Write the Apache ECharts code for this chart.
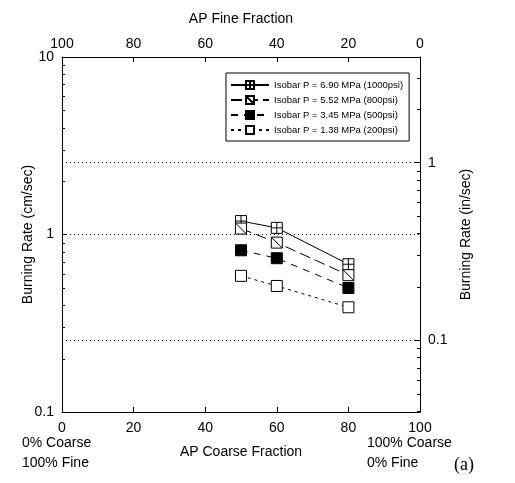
<!DOCTYPE html>
<html>
<head>
<meta charset="utf-8">
<script src="https://cdn.jsdelivr.net/npm/echarts@6/dist/echarts.min.js"></script>
<style>
html,body{margin:0;padding:0;background:#fff;}
#main{width:515px;height:483px;}
</style>
</head>
<body>
<div id="main"></div>
<script>
var coarse=[50,60,80]; // AP coarse fraction (%)
var rate1000=[1.19,1.09,0.68]; // burning rate, cm/sec
var rate800=[1.08,0.90,0.59];
var rate500=[0.815,0.735,0.50];
var rate200=[0.585,0.513,0.389];
var names=['Isobar P = 6.90 MPa (1000psi)','Isobar P = 5.52 MPa (800psi)','Isobar P = 3.45 MPa (500psi)','Isobar P = 1.38 MPa (200psi)'];
// log minor ticks (ECharts does not draw them on log axes)
var minorCm=[0.2,0.3,0.4,0.5,0.6,0.7,0.8,0.9,2,3,4,5,6,7,8,9];
var minorIn=[0.04,0.05,0.06,0.07,0.08,0.09,0.2,0.3,0.4,0.5,0.6,0.7,0.8,0.9,2,3];
var CM_PER_IN=2.54;

var font='Liberation Sans';

function pts(arr){
	var out=[];
	for(var i=0;i<coarse.length;i++){
		out.push([coarse[i],arr[i]]);
	}
	return out;
}

//小刻度线
function minorTicks(vals,yIdx,xVal,dir){
	return {
		type:'custom',xAxisIndex:0,yAxisIndex:yIdx,silent:true,clip:false,z:3,
		data:vals.map(function(v){return [xVal,v];}),
		renderItem:function(params,api){
			var p=api.coord([api.value(0),api.value(1)]);
			var y=Math.round(p[1])+0.5;
			return {type:'line',shape:{x1:p[0],y1:y,x2:p[0]+dir*3,y2:y},style:{stroke:'#000',lineWidth:1}};
		}
	};
}

var symPlus='path://M0,0H10V10H0Z M5,0V10 M0,5H10';
var symDiag='path://M0,0H10V10H0Z M0,0L10,10';

var myChart=echarts.init(document.getElementById('main'));
myChart.setOption({
	animation:false,
	textStyle:{fontFamily:font,color:'#000'},
	grid:{left:62,right:95,top:57,bottom:71},
	legend:{
		orient:'vertical',
		left:226,top:73,
		itemWidth:38,itemHeight:10,itemGap:5,
		padding:[7,6,6,4],
		borderColor:'#000',borderWidth:1,
		textStyle:{fontSize:9.5,fontFamily:font,color:'#000'},
		data:names
	},
	xAxis:[
		{
			type:'value',min:0,max:100,interval:20,position:'bottom',
			name:'AP Coarse Fraction',nameLocation:'middle',nameGap:33,
			nameTextStyle:{fontSize:14,color:'#000'},
			axisLine:{lineStyle:{color:'#000',width:1}},
			axisTick:{inside:true,length:5,lineStyle:{color:'#000'}},
			axisLabel:{fontSize:14,color:'#000',margin:9},
			splitLine:{show:false}
		},
		{
			type:'value',min:0,max:100,interval:20,position:'top',inverse:true,
			name:'AP Fine Fraction',nameLocation:'middle',nameGap:31,
			nameTextStyle:{fontSize:14,color:'#000'},
			axisLine:{lineStyle:{color:'#000',width:1}},
			axisTick:{inside:true,length:5,lineStyle:{color:'#000'}},
			axisLabel:{fontSize:14,color:'#000',margin:6},
			splitLine:{show:false}
		}
	],
	yAxis:[
		{
			type:'log',min:0.1,max:10,logBase:10,position:'left',
			name:'Burning Rate (cm/sec)',nameLocation:'middle',nameGap:27,nameMoveOverlap:false,
			nameTextStyle:{fontSize:14,color:'#000'},
			axisLine:{show:true,lineStyle:{color:'#000',width:1}},
			axisTick:{inside:true,length:5,lineStyle:{color:'#000'}},
			axisLabel:{fontSize:14,color:'#000',margin:8},
			splitLine:{show:true,lineStyle:{color:'#000',type:[1,3],width:1}}
		},
		{
			type:'log',min:0.1/CM_PER_IN,max:10/CM_PER_IN,logBase:10,position:'right',
			name:'Burning Rate (in/sec)',nameLocation:'middle',nameGap:39,nameMoveOverlap:false,
			nameRotate:90,
			nameTextStyle:{fontSize:14,color:'#000'},
			axisLine:{show:true,lineStyle:{color:'#000',width:1}},
			axisTick:{inside:true,length:5,lineStyle:{color:'#000'}},
			axisLabel:{fontSize:14,color:'#000',margin:8,showMinLabel:false,showMaxLabel:false},
			splitLine:{show:true,lineStyle:{color:'#000',type:[1,3],width:1}}
		}
	],
	series:[
		{
			name:names[0],type:'line',data:pts(rate1000),
			symbol:symPlus,symbolSize:11,
			itemStyle:{color:'#fff',borderColor:'#000',borderWidth:1},
			lineStyle:{color:'#000',width:1,type:'solid'}
		},
		{
			name:names[1],type:'line',data:pts(rate800),
			symbol:symDiag,symbolSize:11,
			itemStyle:{color:'#fff',borderColor:'#000',borderWidth:1},
			lineStyle:{color:'#000',width:1,type:[11,5]}
		},
		{
			name:names[2],type:'line',data:pts(rate500),
			symbol:'rect',symbolSize:11,
			itemStyle:{color:'#000',borderColor:'#000',borderWidth:1},
			lineStyle:{color:'#000',width:1,type:[7,6]}
		},
		{
			name:names[3],type:'line',data:pts(rate200),
			symbol:'rect',symbolSize:11,
			itemStyle:{color:'#fff',borderColor:'#000',borderWidth:1},
			lineStyle:{color:'#000',width:1,type:[3,4]}
		},
		minorTicks(minorCm,0,0,1),
		minorTicks(minorIn,1,100,-1)
	],
	graphic:[
		{type:'text',left:22,top:433,style:{text:'0% Coarse\n100% Fine',font:'14px "Liberation Sans"',lineHeight:20,fill:'#000'}},
		{type:'text',left:367,top:433,style:{text:'100% Coarse\n0% Fine',font:'14px "Liberation Sans"',lineHeight:20,fill:'#000'}},
		{type:'text',left:454,top:456,style:{text:'(a)',font:'18px "Liberation Serif"',fill:'#000'}}
	]
});
</script>
</body>
</html>
